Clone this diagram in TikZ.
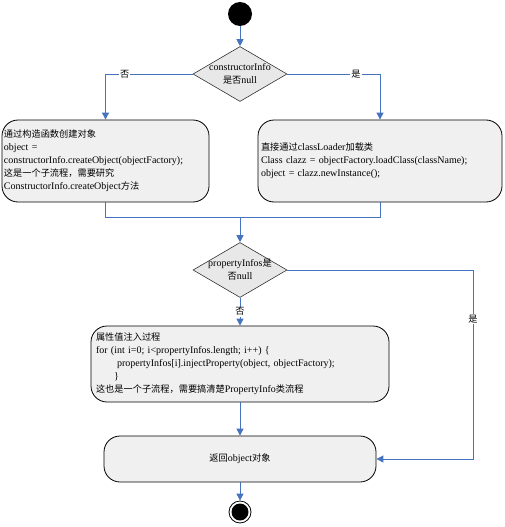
\documentclass[tikz,border=0pt]{standalone}
\usepackage{fontspec}
\setmainfont{Liberation Serif}
\newfontfamily\cjk[Scale=0.92]{Noto Sans CJK SC}
\newcommand\zh[1]{{\cjk #1}}
\usetikzlibrary{shapes.geometric,arrows.meta}
\definecolor{flow}{RGB}{70,115,190}
\definecolor{boxfill}{RGB}{240,240,240}
\definecolor{dfill}{RGB}{232,232,232}
\begin{document}
\begin{tikzpicture}[x=1pt,y=-1pt, font=\fontsize{10}{13}\selectfont,
  box/.style={draw=black, fill=boxfill, rounded corners=16pt, line width=0.8pt, align=left},
  dec/.style={draw=black!80, fill=dfill, diamond, minimum width=94pt, minimum height=55pt, inner sep=0pt, line width=0.6pt},
  arr/.style={draw=flow, line width=0.9pt, -{Triangle[width=7pt,length=7pt]}},
  ln/.style={draw=flow, line width=0.9pt},
  lbl/.style={fill=white, inner sep=1pt}]
\useasboundingbox (0,0) rectangle (505,527);

\node[circle, fill=black, minimum size=24pt, inner sep=0pt] (start) at (240,14) {};
\node[dec] (d1) at (240,74) {};
\node[align=center] (t1) at (d1) {constructorInfo\\\zh{是否}null};

\node[box, text width=203pt, inner xsep=2pt, minimum height=82pt] (b1) at (105.5,161) {%
\zh{通过构造函数创建对象}\\
object =\\
constructorInfo.createObject(objectFactory);\\
\zh{这是一个子流程，需要研究}\\
ConstructorInfo.createObject\zh{方法}};

\node[box, text width=238pt, inner xsep=3pt, minimum height=82pt] (b2) at (380,161) {%
\zh{直接通过}classLoader\zh{加载类}\\
Class clazz = objectFactory.loadClass(className);\\
object = clazz.newInstance();};

\coordinate (m) at (240,217);
\node[dec] (d2) at (240,270) {};
\node[align=center] (t2) at (d2) {propertyInfos\zh{是}\\\zh{否}null};

\node[box, text width=288pt, inner xsep=5pt, minimum height=76pt] (b3) at (240,364) {%
\zh{属性值注入过程}\\
for (int i=0; i<propertyInfos.length; i++) \{\\
\hspace*{21pt}propertyInfos[i].injectProperty(object, objectFactory);\\
\hspace*{18pt}\}\\
\zh{这也是一个子流程，需要搞清楚}PropertyInfo\zh{类流程}};

\node[box, text width=262pt, inner xsep=5pt, minimum height=46pt, align=center] (b4) at (240,459) {\zh{返回}object\zh{对象}};

\node[circle, draw=black, line width=0.8pt, minimum size=22pt, inner sep=0pt,
  path picture={\fill[black] (path picture bounding box.center) circle (8.5pt);}] (end) at (240,512) {};

\coordinate (c2) at (473,459);

\draw[arr] (start) -- (d1.north);
\draw[arr] (d1.west) -| node[lbl,pos=0.39]{\zh{否}} (b1.north);
\draw[arr] (d1.east) -| node[lbl,pos=0.37]{\zh{是}} (b2.north);
\draw[ln] (b1.south) |- (m);
\draw[ln] (b2.south) |- (m);
\draw[arr] (m) -- (d2.north);
\draw[arr] (d2.south) -- node[lbl]{\zh{否}} (b3.north);
\draw[arr] (d2.east) -| node[lbl,pos=0.63]{\zh{是}} (c2) -- (b4.east);
\draw[arr] (b3.south) -- (b4.north);
\draw[arr] (b4.south) -- (end.north);
\end{tikzpicture}
\end{document}
